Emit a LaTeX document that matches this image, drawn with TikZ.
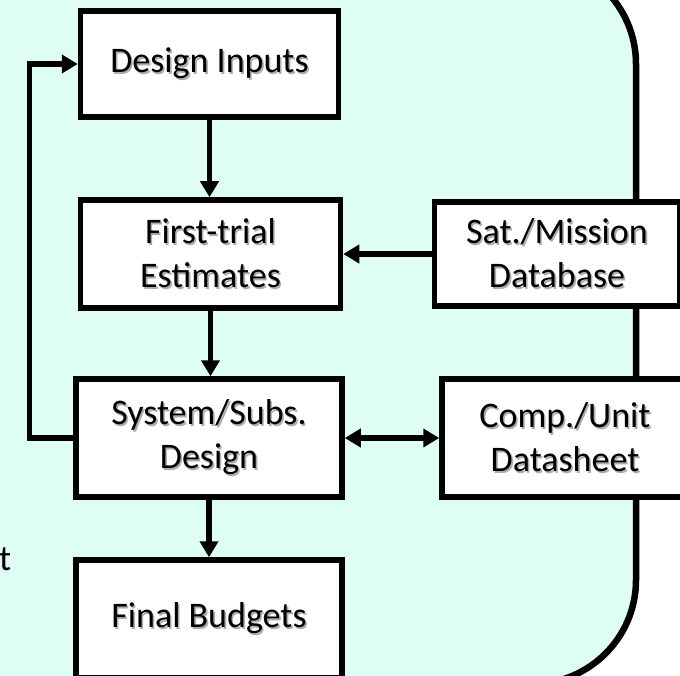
\documentclass[tikz,border=0pt]{standalone}
\usepackage{fontspec}
\setmainfont{Carlito}
\usetikzlibrary{arrows.meta}
\definecolor{panelcyan}{RGB}{221,253,245}
% text with a soft drop shadow
\newcommand\shadowed[1]{%
  \makebox[0pt][l]{\hspace{1.6pt}\raisebox{-1.6pt}{\textcolor{black!32}{#1}}}%
  #1}
\begin{document}
\begin{tikzpicture}[x=1pt,y=-1pt,
  box/.style={draw, fill=white, line width=5.5pt, inner sep=0pt, align=center,
              font=\fontsize{36}{44}\selectfont},
  flow/.style={line width=5.5pt, -{Triangle[length=16pt,width=18pt]}},
  twoway/.style={line width=5.5pt, {Triangle[length=16pt,width=18pt]}-{Triangle[length=16pt,width=18pt]}},
  ]
\useasboundingbox (0,0) rectangle (680,676);

% panel behind the flow chart
\draw[fill=panelcyan, line width=6.5pt, rounded corners=104pt] (-200,-40) rectangle (636,684);

% blocks
\node[box, minimum width=258pt, minimum height=106pt] (inp) at (209.5,64) {\shadowed{Design Inputs}};
\node[box, minimum width=260pt, minimum height=108pt] (est) at (210.5,254) {\shadowed{First-trial}\\\shadowed{Estimates}};
\node[box, minimum width=245pt, minimum height=104pt] (db) at (557,254) {\shadowed{Sat./Mission}\\\shadowed{Database}};
\node[box, minimum width=266pt, minimum height=118pt] (sys) at (209,438) {\shadowed{System/Subs.}\\\shadowed{Design}};
\node[box, minimum width=246pt, minimum height=118pt] (dsh) at (565,438) {\shadowed{Comp./Unit}\\\shadowed{Datasheet}};
\node[box, minimum width=266pt, minimum height=118pt] (fin) at (209,619) {\shadowed{Final Budgets}};

% fragment of text at the left edge
\node[anchor=base west, inner sep=0pt, font=\fontsize{36}{44}\selectfont] (tfrag) at (-1,570) {t};

% connectors
\draw[flow] (inp.south) -- (inp.south |- est.north);
\draw[flow] (est.south) -- (est.south |- sys.north);
\draw[flow] (sys.south) -- (sys.south |- fin.north);
\draw[flow] (db.west) -- (est.east);
\draw[twoway] (sys.east) -- (dsh.west);
\draw[flow] (sys.west) -- ++(-44,0) |- (inp.west);
\end{tikzpicture}
\end{document}
